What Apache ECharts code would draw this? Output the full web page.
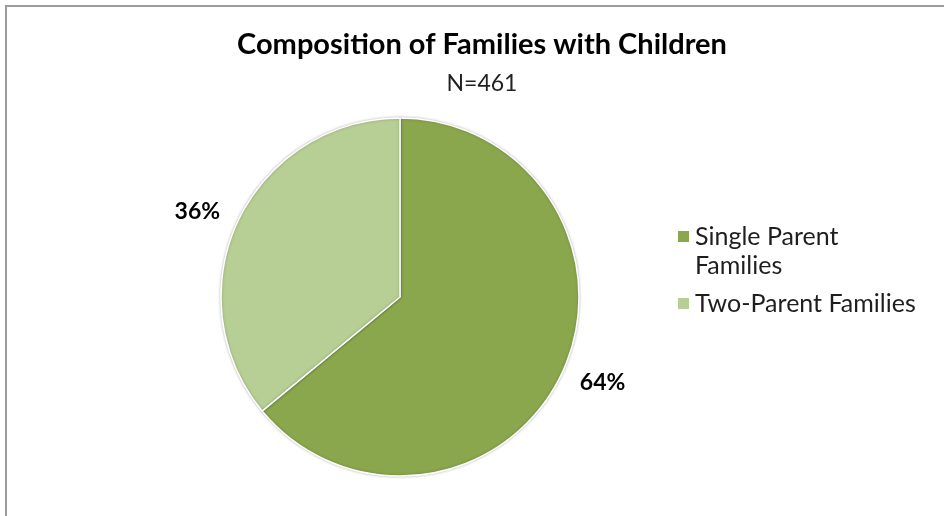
<!DOCTYPE html>
<html>
<head>
<meta charset="utf-8">
<script src="https://cdn.jsdelivr.net/npm/echarts@6/dist/echarts.min.js"></script>
<style>
html,body{margin:0;padding:0;background:#fff;}
#frame{position:absolute;left:5px;top:5px;width:939px;height:511px;border-left:2px solid #9c9c9c;border-top:2px solid #9c9c9c;box-sizing:border-box;}
#chart{position:absolute;left:0;top:0;width:944px;height:516px;}
</style>
</head>
<body>
<div id="frame"></div>
<div id="chart"></div>
<script>
const titleText = 'Composition of Families with Children';
const subtitleText = 'N=461';
const categories = ['Single Parent Families', 'Two-Parent Families'];
const legendLabels = ['\nSingle Parent\nFamilies', 'Two-Parent Families'];
const values = [64, 36];
const colors = ['#8AA74E', '#B7CE95'];

const chart = echarts.init(document.getElementById('chart'));
const FONT = 'Lato';
chart.setOption({
  animation: false,
  title: {
    text: titleText,
    subtext: subtitleText,
    left: 482,
    textAlign: 'center',
    top: 30,
    padding: 0,
    itemGap: 13,
    textStyle: {fontFamily: FONT, fontWeight: 'bold', fontSize: 29, color: '#000'},
    subtextStyle: {fontFamily: FONT, fontSize: 23, color: '#222'}
  },
  legend: {
    orient: 'vertical',
    left: 676,
    top: 193,
    padding: 0,
    itemWidth: 13,
    itemHeight: 13,
    itemGap: 9,
    icon: 'rect',
    data: categories,
    formatter: function (n) { return legendLabels[categories.indexOf(n)]; },
    textStyle: {fontFamily: FONT, fontSize: 25, color: '#1e1e1e', lineHeight: 29}
  },
  series: [{
    type: 'pie',
    center: [400, 297],
    radius: 179,
    startAngle: 90,
    clockwise: true,
    avoidLabelOverlap: false,
    data: categories.map((c, i) => ({name: c, value: values[i], itemStyle: {color: colors[i]}})),
    itemStyle: {borderColor: '#fff', borderWidth: 1.5, shadowBlur: 3, shadowColor: 'rgba(0,0,0,0.25)'},
    label: {
      show: true,
      position: 'outside',
      formatter: '{c}%',
      fontFamily: FONT,
      fontWeight: 'bold',
      fontSize: 23,
      color: '#000',
      distanceToLabelLine: -2
    },
    labelLine: {show: false, length: 22, length2: 0},
    emphasis: {disabled: true}
  }]
});
</script>
</body>
</html>
